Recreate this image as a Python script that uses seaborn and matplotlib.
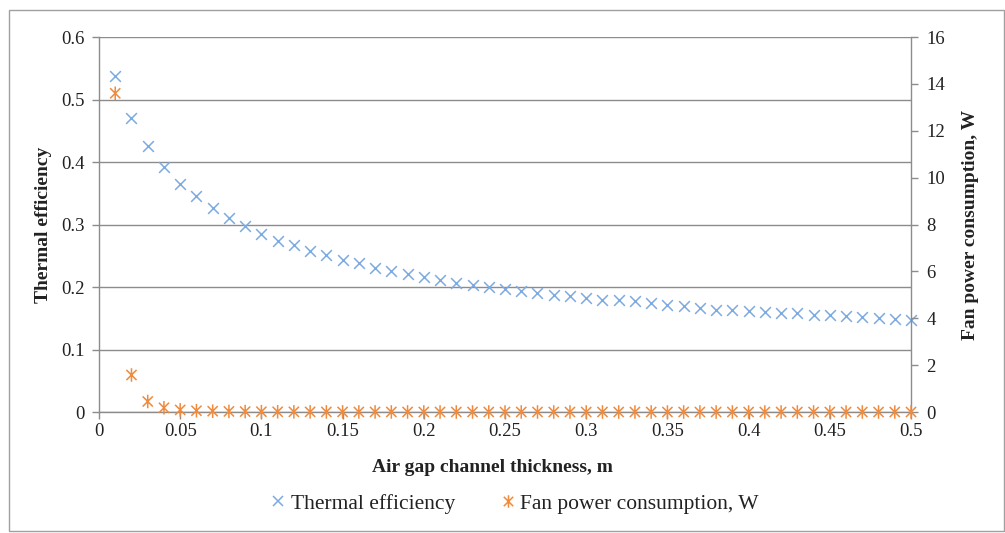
import numpy as np
import pandas as pd
import matplotlib
matplotlib.use("Agg")
import matplotlib.pyplot as plt
from matplotlib.path import Path
from matplotlib.markers import MarkerStyle
from matplotlib.patches import Rectangle
from matplotlib.lines import Line2D
import seaborn as sns

# Air gap channel thickness (m)
thickness = [0.01, 0.02, 0.03, 0.04, 0.05, 0.06, 0.07, 0.08, 0.09, 0.10,
             0.11, 0.12, 0.13, 0.14, 0.15, 0.16, 0.17, 0.18, 0.19, 0.20,
             0.21, 0.22, 0.23, 0.24, 0.25, 0.26, 0.27, 0.28, 0.29, 0.30,
             0.31, 0.32, 0.33, 0.34, 0.35, 0.36, 0.37, 0.38, 0.39, 0.40,
             0.41, 0.42, 0.43, 0.44, 0.45, 0.46, 0.47, 0.48, 0.49, 0.50]

# Thermal efficiency (-)
efficiency = [0.537, 0.470, 0.425, 0.392, 0.365, 0.345, 0.326, 0.310, 0.297, 0.285,
              0.274, 0.267, 0.258, 0.251, 0.244, 0.238, 0.231, 0.225, 0.221, 0.216,
              0.211, 0.207, 0.204, 0.200, 0.197, 0.193, 0.191, 0.188, 0.186, 0.182,
              0.180, 0.179, 0.177, 0.174, 0.171, 0.169, 0.167, 0.164, 0.163, 0.162,
              0.160, 0.159, 0.158, 0.156, 0.155, 0.154, 0.152, 0.150, 0.149, 0.148]

# Fan power consumption (W)
fan_power = [13.6, 1.58, 0.45, 0.18, 0.09, 0.055, 0.035, 0.025, 0.018, 0.013,
             0.010, 0.008, 0.006, 0.005, 0.004, 0.003, 0.003, 0.002, 0.002, 0.002,
             0.0015, 0.0013, 0.0011, 0.0010, 0.0009, 0.0008, 0.0007, 0.0006, 0.0006, 0.0005,
             0.0005, 0.0004, 0.0004, 0.0004, 0.0003, 0.0003, 0.0003, 0.0003, 0.0002, 0.0002,
             0.0002, 0.0002, 0.0002, 0.0002, 0.0001, 0.0001, 0.0001, 0.0001, 0.0001, 0.0001]

x_ticks = [0, 0.05, 0.1, 0.15, 0.2, 0.25, 0.3, 0.35, 0.4, 0.45, 0.5]
x_tick_labels = ["0", "0.05", "0.1", "0.15", "0.2", "0.25", "0.3", "0.35", "0.4", "0.45", "0.5"]
left_ticks = [0, 0.1, 0.2, 0.3, 0.4, 0.5, 0.6]
left_tick_labels = ["0", "0.1", "0.2", "0.3", "0.4", "0.5", "0.6"]
right_ticks = [0, 2, 4, 6, 8, 10, 12, 14, 16]

df = pd.DataFrame({"thickness": thickness, "efficiency": efficiency, "fan_power": fan_power})

sns.set_theme(style="white")
plt.rcParams["font.family"] = ["Liberation Serif", "DejaVu Serif"]

BLUE = "#7DAAE0"
ORANGE = "#F08A3C"
GRID = "#8C8C8C"
TEXT = "#222222"

# Excel-style asterisk: an X crossed by a vertical stroke
ast_path = Path(
    [(0, -1), (0, 1), (-0.75, -0.75), (0.75, 0.75), (-0.75, 0.75), (0.75, -0.75)],
    [Path.MOVETO, Path.LINETO, Path.MOVETO, Path.LINETO, Path.MOVETO, Path.LINETO],
)
ast_marker = MarkerStyle(ast_path, fillstyle="none")

fig = plt.figure(figsize=(10.05, 5.33), dpi=100)
ax = fig.add_axes([0.0985, 0.227, 0.808, 0.7035])
ax2 = ax.twinx()

sns.scatterplot(data=df, x="thickness", y="efficiency", ax=ax, marker="x",
                color=BLUE, s=60, linewidth=1.1, legend=False, zorder=3, clip_on=False)
sns.scatterplot(data=df, x="thickness", y="fan_power", ax=ax2, marker=ast_marker,
                color=ORANGE, s=95, linewidth=1.1, legend=False, zorder=3, clip_on=False)

ax.set_xlim(0, 0.5)
ax.set_ylim(0, 0.6)
ax2.set_ylim(0, 16)

ax.set_xticks(x_ticks)
ax.set_xticklabels(x_tick_labels)
ax.set_yticks(left_ticks)
ax.set_yticklabels(left_tick_labels)
ax2.set_yticks(right_ticks)
ax2.set_yticklabels([str(v) for v in right_ticks])

ax.yaxis.grid(True, color=GRID, linewidth=1.0)
ax.xaxis.grid(False)
ax2.grid(False)
ax.set_axisbelow(True)

for a in (ax, ax2):
    for side, sp in a.spines.items():
        sp.set_color(GRID)
        sp.set_linewidth(1.0)
    a.spines["top"].set_visible(False)
ax.spines["right"].set_visible(False)
ax2.spines["left"].set_visible(False)
ax2.spines["bottom"].set_visible(False)

ax.tick_params(axis="y", which="both", left=True, length=5, width=1, color=GRID,
               labelsize=13.5, labelcolor=TEXT, pad=5)
ax.tick_params(axis="x", which="both", bottom=True, length=5, width=1, color=GRID,
               labelsize=13.5, labelcolor=TEXT, pad=3)
ax2.tick_params(axis="y", which="both", right=True, length=5, width=1, color=GRID,
                labelsize=13.5, labelcolor=TEXT, pad=6)

ax.set_xlabel("Air gap channel thickness, m", fontsize=14, fontweight="bold",
              color=TEXT)
ax.xaxis.set_label_coords(0.485, -0.125)
ax.set_ylabel("Thermal efficiency", fontsize=14, fontweight="bold", color=TEXT)
ax.yaxis.set_label_coords(-0.058, 0.5)
ax2.set_ylabel("Fan power consumption, W", fontsize=14, fontweight="bold", color=TEXT)
ax2.yaxis.set_label_coords(1.063, 0.5)

handles = [
    Line2D([], [], linestyle="none", marker="x", color=BLUE, markersize=7, markeredgewidth=1.1),
    Line2D([], [], linestyle="none", marker=ast_marker, color=ORANGE, markersize=9,
           markeredgewidth=1.1),
]
fig.legend(handles, ["Thermal efficiency", "Fan power consumption, W"],
           loc="center", bbox_to_anchor=(0.513, 0.055), ncol=2, frameon=False,
           fontsize=15.5, handlelength=0.5, handletextpad=0.35, columnspacing=2.2,
           labelcolor=TEXT)

# Outer chart border
fig.patches.append(Rectangle((0.009, 0.003), 0.99, 0.978, transform=fig.transFigure,
                             fill=False, edgecolor="#A0A0A0", linewidth=1.0))

fig.savefig("out.png", dpi=100)
